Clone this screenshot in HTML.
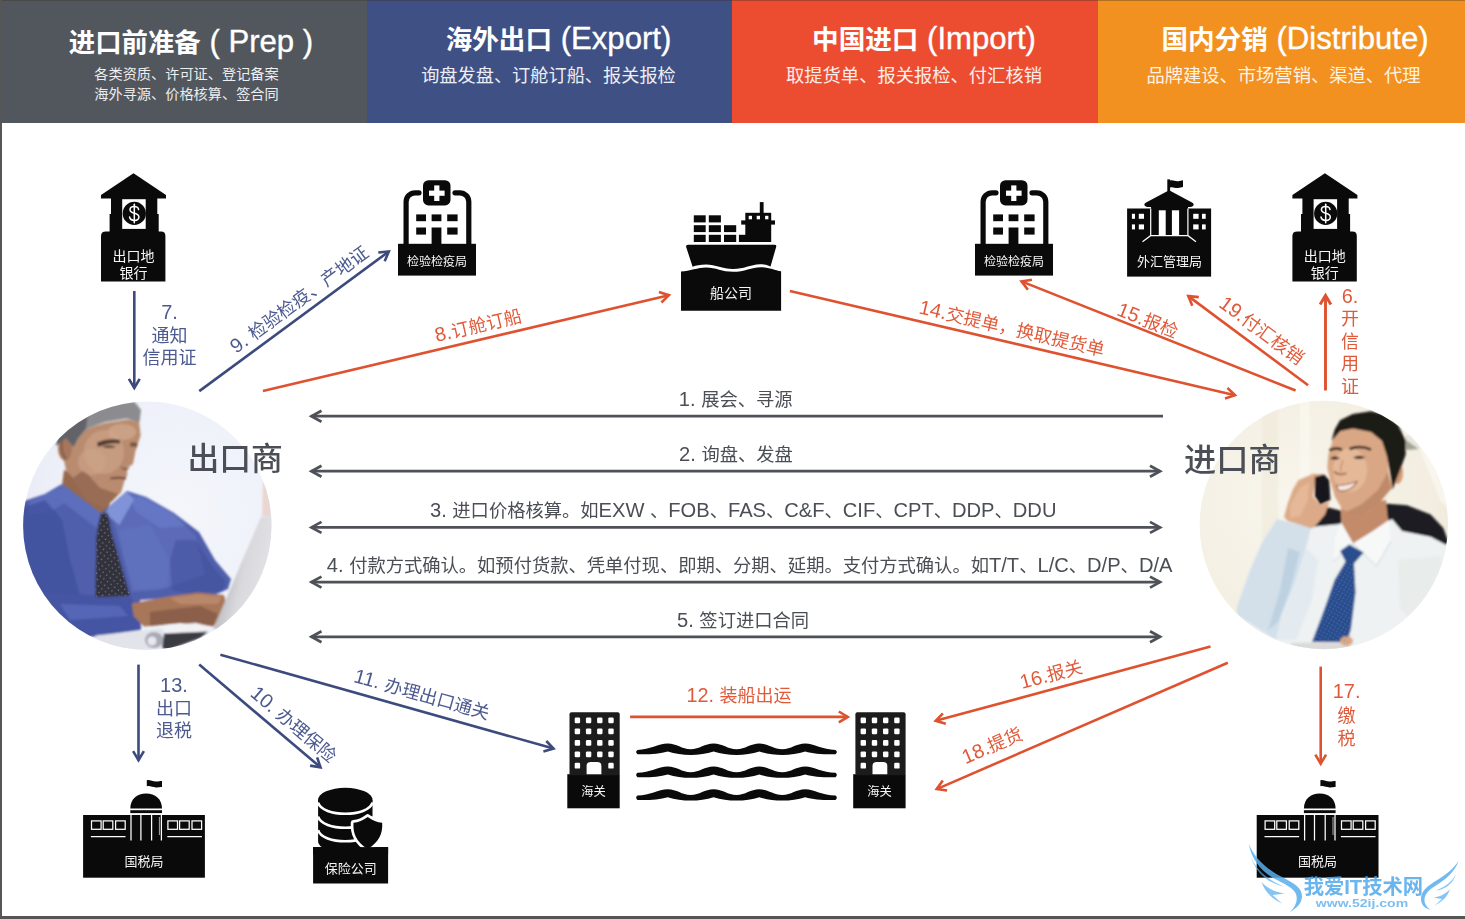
<!DOCTYPE html>
<html lang="zh-CN">
<head>
<meta charset="utf-8">
<title>进出口流程</title>
<style>
html,body{margin:0;padding:0;background:#fff}
#p{position:relative;width:1465px;height:919px;overflow:hidden;background:#fff;font-family:"Liberation Sans","Noto Sans CJK SC",sans-serif}
.t{position:absolute;white-space:nowrap;line-height:1;text-align:center}
.k{font-size:.963em}
.l{position:absolute;left:0;top:0}
.hd{position:absolute;top:0;height:123px}
</style>
</head>
<body>
<div id="p">
<div class="hd" style="left:0px;width:367px;background:#52565d"></div>
<div class="hd" style="left:367px;width:365px;background:#3f5084"></div>
<div class="hd" style="left:732px;width:366px;background:#ec4d31"></div>
<div class="hd" style="left:1098px;width:367px;background:#f29120"></div>
<div class="t" style="left:191px;top:41.7px;font-size:26.4px;color:#fff;font-weight:700;transform:translate(-50%,-50%);">进口前准备<span style="font-size:1.18em;font-weight:400;-webkit-text-stroke:0.35px #fff;"> ( Prep )</span></div>
<div class="t" style="left:186.5px;top:74.4px;font-size:14.2px;color:#eceef0;transform:translate(-50%,-50%);">各类资质、许可证、登记备案</div>
<div class="t" style="left:186.5px;top:93.9px;font-size:14.2px;color:#eceef0;transform:translate(-50%,-50%);">海外寻源、价格核算、签合同</div>
<div class="t" style="left:558.5px;top:39.2px;font-size:26.6px;color:#fff;font-weight:700;transform:translate(-50%,-50%);">海外出口<span style="font-size:1.17em;font-weight:400;-webkit-text-stroke:0.35px #fff;"> (Export)</span></div>
<div class="t" style="left:548.5px;top:76.3px;font-size:18.2px;color:#eceef4;transform:translate(-50%,-50%);">询盘发盘、订舱订船、报关报检</div>
<div class="t" style="left:924px;top:39.2px;font-size:26.6px;color:#fff;font-weight:700;transform:translate(-50%,-50%);">中国进口<span style="font-size:1.17em;font-weight:400;-webkit-text-stroke:0.35px #fff;"> (Import)</span></div>
<div class="t" style="left:914px;top:75.8px;font-size:18.3px;color:#fdeeea;transform:translate(-50%,-50%);">取提货单、报关报检、付汇核销</div>
<div class="t" style="left:1295px;top:39.2px;font-size:26.6px;color:#fff;font-weight:700;transform:translate(-50%,-50%);">国内分销<span style="font-size:1.17em;font-weight:400;-webkit-text-stroke:0.35px #fff;"> (Distribute)</span></div>
<div class="t" style="left:1283.5px;top:75.8px;font-size:18.3px;color:#fef3e4;transform:translate(-50%,-50%);">品牌建设、市场营销、渠道、代理</div>
<div style="position:absolute;left:0;top:0;width:1465px;height:1px;background:rgba(60,50,40,.35)"></div>
<div style="position:absolute;left:0;top:0;width:2px;height:919px;background:#565656"></div>
<div style="position:absolute;left:0;top:916px;width:1465px;height:3px;background:#555"></div>
<svg class="l" width="1465" height="919" viewBox="0 0 1465 919">
<defs><clipPath id="cL"><circle cx="147.3" cy="525.7" r="124.2"/></clipPath><clipPath id="cR"><circle cx="1323.8" cy="525" r="124.2"/></clipPath><clipPath id="tieL"><path d="M101,513 L108,513.5 L111.5,533 L130,596 L95.4,597 L96.3,538 L98.5,524 Z"/></clipPath><clipPath id="tieR"><path d="M1345.6,563 L1354,563.6 L1355.5,592.4 L1351,628.5 L1347.4,642 L1312,642 L1323.9,610.4 L1334.7,579.7 Z"/></clipPath><filter id="b1" x="-5%" y="-5%" width="110%" height="110%"><feGaussianBlur stdDeviation="0.9"/></filter><radialGradient id="bgL" cx="0.62" cy="0.45" r="0.75"><stop offset="0" stop-color="#f4f6fb"/><stop offset="0.6" stop-color="#eef1f9"/><stop offset="1" stop-color="#e6e9f4"/></radialGradient><radialGradient id="bgR" cx="0.35" cy="0.4" r="0.8"><stop offset="0" stop-color="#f8f5ec"/><stop offset="0.7" stop-color="#f3eee1"/><stop offset="1" stop-color="#ece5d4"/></radialGradient><linearGradient id="lap" x1="0" y1="0" x2="1" y2="0.45"><stop offset="0.35" stop-color="#bfbfc4"/><stop offset="0.55" stop-color="#d9d9dd"/><stop offset="1" stop-color="#e8e8ea"/></linearGradient><pattern id="dotL" width="4.6" height="4.6" patternUnits="userSpaceOnUse" patternTransform="rotate(38)"><circle cx="1.2" cy="1.2" r="0.65" fill="#8d888c"/></pattern><pattern id="dotR" width="3.6" height="3.6" patternUnits="userSpaceOnUse" patternTransform="rotate(30)"><circle cx="1" cy="1" r="0.6" fill="#5f86c4"/></pattern></defs>
<g clip-path="url(#cL)"><rect x="20" y="398" width="256" height="256" fill="url(#bgL)"/><g filter="url(#b1)"><path d="M263,482 L270,480 L272,517 L262,517 Z" fill="#ead6d2" /><path d="M64,470 L112,488 L109,512 L100,520 L60,500 Z" fill="#96694f" /><path d="M73,444 L79,436 L88,428 L105,423 L127,419.5 L139,421 L140.7,435.5 L137.1,446 L135.4,451.5 L133,464 L126.5,468.3 L127.4,474.5 L124.7,480 L121.2,492.3 L112.3,501.2 L104,507 L88,500 L73,478 L66,470 L62,452 Z" fill="#b98c70" /><ellipse cx="104" cy="452" rx="20" ry="22" fill="#c99f84" opacity=".8"/><ellipse cx="122" cy="432" rx="14" ry="8" fill="#cfa68c" opacity=".8"/><path d="M73,478 L88,500 L104,507 L112,501 L118,494 L100,488 L84,470 Z" fill="#8e624b" opacity=".75"/><ellipse cx="65" cy="448" rx="7" ry="12.5" fill="#a6775c"/><path d="M97,442.5 Q108,437.5 120,440 L120,443.5 Q109,442 98,447 Z" fill="#3e2a22" opacity=".85"/><path d="M102,446.5 Q109,444.5 116,446.8 Q109,449.5 102,446.5 Z" fill="#2e201b" opacity=".8"/><path d="M130,443 Q134,441.5 137.5,443.5 L137,447.5 Q133,446 130.5,447 Z" fill="#5a3c30" opacity=".7"/><path d="M120,466 Q125,469.5 130,467 L127,470.5 Q123,471 120,466 Z" fill="#7a4f3e" opacity=".8"/><ellipse cx="92" cy="462" rx="14" ry="13" fill="#d0a58a" opacity=".55"/><path d="M62,440 Q60,452 66,459" stroke="#7d5642" stroke-width="2.2" fill="none" opacity=".8"/><path d="M96,408 Q118,401 138,404 L139,412 Q118,408 100,416 Z" fill="#b9b9bd" opacity=".75"/><path d="M110.5,478.5 Q118,477 126,478.5" stroke="#6e4336" stroke-width="2.2" fill="none"/><path d="M56,446 L58,436 L63,428 L73,421 L94.5,410 L119,403 L134,401.5 L141,410 L139.5,422 L126.5,418.5 L105.2,422 L88,428 L79,438 L73.5,447 L66,438 Z" fill="#8b8b90" /><path d="M56,446 L58,436 L63,428 L73,421 L88,413 L86,428 L78,438 L73.5,447 L66,438 Z" fill="#57575d" opacity=".8"/></g><g filter="url(#b1)"><path d="M15,505 L27,500 L45,494 L61,484.5 L100,514 L127,491 L146,497 L174,513 L199,532 L215,560 L231,579 L228,589 L212,596 L170,598 L140,600 L141,630 L98,636 L60,640 L15,640 Z" fill="#4f5eab" /><path d="M110,510 L140,497 L176,516 L196,536 L205,575 L160,590 L132,592 L120,545 Z" fill="#5d6dba" opacity=".85"/><path d="M30,501 L46,494.5 L62,486 L70,500 L50,512 L28,514 Z" fill="#6273c2" opacity=".7"/><path d="M128,493 L146,498 L172,513 L186,526 L160,528 L136,512 Z" fill="#6a7bc9" opacity=".7"/><path d="M118,530 L150,524 L170,560 L168,588 L134,590 L124,560 Z" fill="#6373c0" opacity=".55"/><path d="M15,510 L45,500 L62,520 L70,560 L80,596 L40,600 L15,560 Z" fill="#3f4e9a" opacity=".7"/><path d="M176,540 L196,540 L212,566 L226,582 L222,592 L190,594 L172,590 L170,560 Z" fill="#3f4d98" opacity=".5"/><path d="M40,592 L132,598 L141,628 L98,636 L55,640 L30,620 Z" fill="#4555a3" /><path d="M60,604 L120,606 L128,616 L70,620 Z" fill="#5b6dbd" opacity=".7"/><path d="M62.6,484 L101.6,513.6 L96.3,528 L60,500 Z" fill="#5c6ebc" /><path d="M108.7,506.5 L126.5,491.5 L134,499.4 L119.4,525 L105.2,513.6 Z" fill="#8093d8" /><path d="M101,513 L108,513.5 L111.5,533 L130,596 L95.4,597 L96.3,538 L98.5,524 Z" fill="#33323d" /><path d="M131.8,603.4 L171,596 L197.5,592.5 L224,595 L226,603.4 L219,619.4 L213.4,626.5 L180,623 L144,626.5 L133.6,616 Z" fill="#a87659" /><path d="M150,612 L200,606 L218,614 L213,626 L180,623 L150,626 Z" fill="#7f5641" opacity=".7"/><path d="M170,598 L200,594 L222,597 L218,604 L180,604 Z" fill="#bd8c6f" opacity=".8"/><path d="M165,625.5 L196,623 L212,627 L208,632 L166,633 Z" fill="#f2f2f5" /><path d="M96,635.4 L162,628.4 L165,636 L162,647.5 L142,650 L110,652 L90,645 Z" fill="#e3e3ea" /><ellipse cx="154" cy="640" rx="9" ry="8" fill="#a9a9b6"/><ellipse cx="152" cy="641" rx="4.5" ry="4.5" fill="#e8e8ee"/><path d="M164,633.4 L208,631.6 L200,638 L168,650 L162,648 Z" fill="#3b3b42" /><path d="M260.9,517 L280,515 L280,640 L213.4,628.5 Z" fill="url(#lap)" /></g><rect x="94" y="512" width="38" height="86" fill="url(#dotL)" clip-path="url(#tieL)"/></g>
<g clip-path="url(#cR)"><rect x="1196" y="398" width="256" height="256" fill="url(#bgR)"/><g filter="url(#b1)"><rect x="1262" y="400" width="16" height="140" fill="#efe9d9" opacity=".6"/><rect x="1300" y="400" width="10" height="80" fill="#fbf8f0" opacity=".7"/><path d="M1405,436 L1414,433 L1421,440 L1420,449 L1406,450 Z" fill="#a2a496" /><path d="M1398,396 L1460,396 L1460,520 L1440,500 L1420,450 L1406,440 Z" fill="#faf8f1" opacity=".8"/><path d="M1307,531 L1316.6,514.4 L1327.5,507.2 L1341,510.8 L1342,527 L1309,529 Z" fill="#1d1d20" /><path d="M1384,503.5 L1407,505.3 L1430.6,514.4 L1443.3,528 L1449,543.5 L1443.3,546 L1430.6,537 L1401.6,531.5 L1388,520 Z" fill="#1d1d20" /><path d="M1277,519 L1310,527 L1340,524 L1353,543 L1373,530 L1392,519 L1402,531 L1431,537 L1452,548 L1455,660 L1273,660 L1237,615 L1237,606.8 L1249.7,570.7 L1262.4,541.7 Z" fill="#eef2f2" /><path d="M1277,519 L1311,527.5 L1306,548 L1296,580 L1282,614 L1276,640 L1237,615 L1237,606.8 L1249.7,570.7 L1262.4,541.7 Z" fill="#d3e0ea" /><path d="M1288,548 L1300,552 L1290,590 L1278,622 L1268,630 L1280,590 Z" fill="#b9cddf" opacity=".8"/><path d="M1306,548 L1318,560 L1312,600 L1296,640 L1276,640 L1282,614 L1296,580 Z" fill="#e3ebf0" /><path d="M1398,560 L1440,556 L1452,600 L1420,625 L1400,610 Z" fill="#e6ebe9" opacity=".8"/><path d="M1341,508 L1386,500 L1388,522 L1373,531.5 L1353,543.5 L1341.5,524 Z" fill="#c38b6a" /><path d="M1341,522 L1353,543.5 L1333,562 L1335,538 Z" fill="#f6f8f7" /><path d="M1373,531 L1353,543.5 L1376.5,566 L1391,541 L1389,520 Z" fill="#f7f9f8" /><path d="M1353,543.5 L1333,562 M1353,543.5 L1376.5,566 L1391,541" stroke="#cdd5d8" stroke-width="1" fill="none"/><path d="M1340.1,551 L1349.2,544.4 L1363.7,552.6 L1354,563.6 L1355.5,592.4 L1351,628.5 L1347.4,642 L1312,642 L1323.9,610.4 L1334.7,579.7 L1345.6,561.6 Z" fill="#2a4e8d" /><path d="M1333,439 L1339.5,429.5 L1353,427 L1371.5,430.5 L1383.5,440 L1387.5,456 L1389,475 L1393,488 L1389,491 L1380,502 L1367.3,512.6 L1352.8,515.6 L1342,509 L1334.7,496.3 L1330.2,480 L1327.3,467.4 L1328.4,454.7 Z" fill="#d9a785" /><ellipse cx="1350" cy="470" rx="17" ry="22" fill="#e8bf9f" opacity=".75"/><path d="M1366,513 L1380,502 L1391,489 L1388,472 L1378,490 L1362,504 L1346,512 L1352.8,515.6 Z" fill="#b47d5c" opacity=".7"/><ellipse cx="1397.5" cy="473" rx="5.5" ry="11" fill="#d19a78"/><path d="M1329.5,450.5 Q1335,446.8 1342,449.8 M1349.5,449 Q1360,444.8 1371,449.6" stroke="#241812" stroke-width="2.6" fill="none"/><path d="M1330,458.5 Q1334.5,454.8 1340,458.2 Q1335,460.5 1330,458.5 Z M1353,457.8 Q1359,453.6 1365.5,457.6 Q1359,460.2 1353,457.8 Z" fill="#1f1511"/><path d="M1336.5,485.5 Q1346,485.5 1357,481.5 Q1351,492.5 1338.5,490.5 Z" fill="#f6ece6" stroke="#9c5b4a" stroke-width="1.2"/><path d="M1334,471.5 Q1339,476.5 1346.5,473" stroke="#9d6a52" stroke-width="1.8" fill="none"/><path d="M1343,460 Q1340,468 1341,472" stroke="#c08f70" stroke-width="1.6" fill="none" opacity=".8"/><path d="M1331.5,441 L1334.7,429.4 L1340.1,420.3 L1352.8,414 L1370.9,411.2 L1385.4,414.5 L1398,424.8 L1405.6,440.2 L1405.6,454.7 L1401,467.4 L1396.2,480 L1392.6,489.5 L1390,472 L1386.6,455 L1382,441 L1371,432 L1353,428.5 L1340.5,431 L1335.5,436.5 Z" fill="#1f1a17" /><path d="M1298.5,480 L1313,473.7 L1323.9,474.6 L1315.5,481 L1313,496.3 L1320.2,505.3 L1329.3,501.7 L1325,514.4 L1316,525.2 L1312,528.5 L1287.7,521 L1284.1,517 L1287.7,503.5 L1293.1,489.1 Z" fill="#dcaa88" /><path d="M1290,505 L1300,488 L1309,482 L1308,500 L1300,516 L1290,518 Z" fill="#e8bea0" opacity=".7"/><path d="M1314.8,477 L1323.9,474.6 L1329.3,480 L1330.4,499.9 L1320.2,504.8 L1314.8,496.3 Z" fill="#17141a" /><path d="M1291,643 L1348,642 L1352,650 L1290,650 Z" fill="#dadada" /><ellipse cx="1346.5" cy="641" rx="6.5" ry="4.8" fill="#d9a785"/></g><rect x="1310" y="542" width="56" height="102" fill="url(#dotR)" clip-path="url(#tieR)"/></g>
</svg>
<svg class="l" width="1465" height="919" viewBox="0 0 1465 919">
<g stroke="#4e5158" stroke-width="2.7" fill="none" stroke-linecap="butt" stroke-linejoin="miter"><line x1="1163.0" y1="416.2" x2="311.4" y2="416.2"/><polyline points="321.5,410.7 311.4,416.2 321.5,421.7"/></g>
<g stroke="#4e5158" stroke-width="2.7" fill="none" stroke-linecap="butt" stroke-linejoin="miter"><line x1="311.4" y1="471.2" x2="1160.1" y2="471.2"/><polyline points="1150.0,476.7 1160.1,471.2 1150.0,465.7"/><polyline points="321.5,465.7 311.4,471.2 321.5,476.7"/></g>
<g stroke="#4e5158" stroke-width="2.7" fill="none" stroke-linecap="butt" stroke-linejoin="miter"><line x1="311.4" y1="527.4" x2="1160.1" y2="527.4"/><polyline points="1150.0,532.9 1160.1,527.4 1150.0,521.9"/><polyline points="321.5,521.9 311.4,527.4 321.5,532.9"/></g>
<g stroke="#4e5158" stroke-width="2.7" fill="none" stroke-linecap="butt" stroke-linejoin="miter"><line x1="311.4" y1="582.1" x2="1160.1" y2="582.1"/><polyline points="1150.0,587.6 1160.1,582.1 1150.0,576.6"/><polyline points="321.5,576.6 311.4,582.1 321.5,587.6"/></g>
<g stroke="#4e5158" stroke-width="2.7" fill="none" stroke-linecap="butt" stroke-linejoin="miter"><line x1="311.4" y1="636.8" x2="1160.1" y2="636.8"/><polyline points="1150.0,642.3 1160.1,636.8 1150.0,631.3"/><polyline points="321.5,631.3 311.4,636.8 321.5,642.3"/></g>
<g stroke="#3c4a7d" stroke-width="2.6" fill="none" stroke-linecap="butt" stroke-linejoin="miter"><line x1="134.3" y1="291.0" x2="134.3" y2="387.9"/><polyline points="128.9,378.9 134.3,387.9 139.7,378.9"/></g>
<g stroke="#3c4a7d" stroke-width="2.6" fill="none" stroke-linecap="butt" stroke-linejoin="miter"><line x1="199.3" y1="391.1" x2="388.8" y2="251.5"/><polyline points="384.7,261.2 388.8,251.5 378.3,252.5"/></g>
<g stroke="#3c4a7d" stroke-width="2.6" fill="none" stroke-linecap="butt" stroke-linejoin="miter"><line x1="138.5" y1="664.6" x2="138.5" y2="760.1"/><polyline points="133.1,751.1 138.5,760.1 143.9,751.1"/></g>
<g stroke="#3c4a7d" stroke-width="2.6" fill="none" stroke-linecap="butt" stroke-linejoin="miter"><line x1="199.2" y1="664.6" x2="320.5" y2="767.3"/><polyline points="310.1,765.6 320.5,767.3 317.1,757.4"/></g>
<g stroke="#3c4a7d" stroke-width="2.6" fill="none" stroke-linecap="butt" stroke-linejoin="miter"><line x1="220.4" y1="654.7" x2="553.5" y2="748.6"/><polyline points="543.4,751.4 553.5,748.6 546.3,741.0"/></g>
<g stroke="#df5230" stroke-width="2.6" fill="none" stroke-linecap="butt" stroke-linejoin="miter"><line x1="262.9" y1="390.9" x2="668.9" y2="295.2"/><polyline points="661.4,302.5 668.9,295.2 658.9,292.0"/></g>
<g stroke="#df5230" stroke-width="2.6" fill="none" stroke-linecap="butt" stroke-linejoin="miter"><line x1="789.9" y1="290.9" x2="1235.0" y2="395.2"/><polyline points="1225.0,398.4 1235.0,395.2 1227.5,387.9"/></g>
<g stroke="#df5230" stroke-width="2.6" fill="none" stroke-linecap="butt" stroke-linejoin="miter"><line x1="1295.6" y1="390.5" x2="1021.5" y2="281.4"/><polyline points="1031.9,279.7 1021.5,281.4 1027.9,289.7"/></g>
<g stroke="#df5230" stroke-width="2.6" fill="none" stroke-linecap="butt" stroke-linejoin="miter"><line x1="1308.1" y1="385.3" x2="1188.3" y2="296.1"/><polyline points="1198.8,297.1 1188.3,296.1 1192.3,305.8"/></g>
<g stroke="#df5230" stroke-width="2.9" fill="none" stroke-linecap="butt" stroke-linejoin="miter"><line x1="1325.5" y1="390.5" x2="1325.5" y2="295.4"/><polyline points="1330.9,304.4 1325.5,295.4 1320.1,304.4"/></g>
<g stroke="#df5230" stroke-width="2.6" fill="none" stroke-linecap="butt" stroke-linejoin="miter"><line x1="630.1" y1="716.9" x2="847.8" y2="716.9"/><polyline points="838.8,722.3 847.8,716.9 838.8,711.5"/></g>
<g stroke="#df5230" stroke-width="2.6" fill="none" stroke-linecap="butt" stroke-linejoin="miter"><line x1="1210.5" y1="646.6" x2="935.7" y2="720.8"/><polyline points="942.9,713.3 935.7,720.8 945.8,723.7"/></g>
<g stroke="#df5230" stroke-width="2.6" fill="none" stroke-linecap="butt" stroke-linejoin="miter"><line x1="1227.8" y1="662.8" x2="936.7" y2="789.1"/><polyline points="942.8,780.6 936.7,789.1 947.1,790.5"/></g>
<g stroke="#df5230" stroke-width="2.6" fill="none" stroke-linecap="butt" stroke-linejoin="miter"><line x1="1320.7" y1="666.6" x2="1320.7" y2="763.6"/><polyline points="1315.3,754.6 1320.7,763.6 1326.1,754.6"/></g>
</svg>
<svg class="l" width="1465" height="919" viewBox="0 0 1465 919">
<g transform="translate(0,0)" fill="#0a0a0a"><path d="M133.5,173.3 L166,195 V198.6 H101 V195 Z"/><rect x="111" y="197" width="46.3" height="36"/><rect x="109.6" y="214" width="49.1" height="19"/><rect x="122.2" y="199.2" width="23.5" height="29.7" fill="#fff"/><circle cx="134.3" cy="213.4" r="11.6"/><path d="M106,231.6 H161 Q165.4,231.6 165.4,236 V281.6 H101 V236 Q101,231.6 106,231.6 Z"/><g fill="none" stroke="#fff" stroke-width="1.5" stroke-linecap="round"><path d="M138.6,209.6 C138.2,207.4 136.4,206.6 134.3,206.6 C131.6,206.6 130,207.9 130,209.8 C130,214.6 138.9,212 138.9,217 C138.9,219.2 137,220.4 134.4,220.4 C131.8,220.4 130,219.3 129.6,217"/><path d="M134.3,204.2 V222.8"/></g></g>
<g transform="translate(1191.4,0)" fill="#0a0a0a"><path d="M133.5,173.3 L166,195 V198.6 H101 V195 Z"/><rect x="111" y="197" width="46.3" height="36"/><rect x="109.6" y="214" width="49.1" height="19"/><rect x="122.2" y="199.2" width="23.5" height="29.7" fill="#fff"/><circle cx="134.3" cy="213.4" r="11.6"/><path d="M106,231.6 H161 Q165.4,231.6 165.4,236 V281.6 H101 V236 Q101,231.6 106,231.6 Z"/><g fill="none" stroke="#fff" stroke-width="1.5" stroke-linecap="round"><path d="M138.6,209.6 C138.2,207.4 136.4,206.6 134.3,206.6 C131.6,206.6 130,207.9 130,209.8 C130,214.6 138.9,212 138.9,217 C138.9,219.2 137,220.4 134.4,220.4 C131.8,220.4 130,219.3 129.6,217"/><path d="M134.3,204.2 V222.8"/></g></g>
<g transform="translate(0,0)" fill="#0a0a0a"><rect x="398" y="243.8" width="78" height="31.8"/><g fill="none" stroke="#0a0a0a" stroke-width="5.2" stroke-linecap="round"><path d="M406.1,245 V201.8 A9,9 0 0 1 415.1,192.8 H419"/><path d="M468.8,245 V201.8 A9,9 0 0 0 459.8,192.8 H455"/></g><rect x="423" y="180.2" width="27.5" height="25.2" rx="5.5"/><rect x="429" y="190.6" width="15.6" height="5.2" fill="#fff"/><rect x="434.2" y="185.4" width="5.2" height="15.6" fill="#fff"/><rect x="416.2" y="214.4" width="9.8" height="6.8"/><rect x="431.6" y="214.4" width="9.8" height="6.8"/><rect x="447.2" y="214.4" width="10.4" height="6.8"/><rect x="416.2" y="227.5" width="9.8" height="7.1"/><rect x="447.2" y="227.5" width="10.4" height="7.1"/><rect x="431.6" y="227.5" width="9.8" height="17"/></g>
<g transform="translate(577,0)" fill="#0a0a0a"><rect x="398" y="243.8" width="78" height="31.8"/><g fill="none" stroke="#0a0a0a" stroke-width="5.2" stroke-linecap="round"><path d="M406.1,245 V201.8 A9,9 0 0 1 415.1,192.8 H419"/><path d="M468.8,245 V201.8 A9,9 0 0 0 459.8,192.8 H455"/></g><rect x="423" y="180.2" width="27.5" height="25.2" rx="5.5"/><rect x="429" y="190.6" width="15.6" height="5.2" fill="#fff"/><rect x="434.2" y="185.4" width="5.2" height="15.6" fill="#fff"/><rect x="416.2" y="214.4" width="9.8" height="6.8"/><rect x="431.6" y="214.4" width="9.8" height="6.8"/><rect x="447.2" y="214.4" width="10.4" height="6.8"/><rect x="416.2" y="227.5" width="9.8" height="7.1"/><rect x="447.2" y="227.5" width="10.4" height="7.1"/><rect x="431.6" y="227.5" width="9.8" height="17"/></g>
<g fill="#0a0a0a"><path d="M681,310.7 V271.5 C690,271 698,267.5 706,267.5 C716,267.5 722,271.8 733,271.8 C745,271.8 752,266.8 762,267.2 C770,267.5 775,270.5 781.1,271.2 V310.7 Z"/><path d="M686,246.5 Q686,244.7 688,244.7 H774.5 Q776.5,244.7 776.3,246.5 L770.5,266.5 C766,264.5 763,264 760,264.2 C750,264.6 744,269 733,269 C722,269 716,264.6 706,264.6 C700,264.6 696,265.6 692.6,266.8 Z"/><rect x="693.8" y="215.3" width="11.9" height="7.1"/><rect x="708.8" y="215.3" width="12.1" height="7.1"/><rect x="693.8" y="225.2" width="11.9" height="6.9"/><rect x="708.8" y="225.2" width="12.1" height="6.9"/><rect x="724" y="225.2" width="12.2" height="6.9"/><rect x="693.8" y="234.8" width="11.9" height="7.2"/><rect x="708.8" y="234.8" width="12.1" height="7.2"/><rect x="724" y="234.8" width="12.2" height="7.2"/><rect x="738.9" y="234.8" width="12.2" height="7.2"/><rect x="745.3" y="212.8" width="25.9" height="29.2"/><rect x="741.2" y="220.4" width="33.8" height="4.2"/><rect x="759.8" y="202.1" width="3.8" height="11"/><rect x="748.7" y="215.8" width="3.3" height="3.5" fill="#fff"/><rect x="756.7" y="215.8" width="3.3" height="3.5" fill="#fff"/><rect x="765.1" y="215.8" width="3.3" height="3.5" fill="#fff"/></g>
<g fill="#0a0a0a"><rect x="1127.1" y="208.5" width="84" height="68.1"/><path d="M1169.1,190.2 L1192.5,202.8 Q1194.5,204 1193.4,205.6 Q1192.6,206.9 1190.5,206.9 H1147.5 Q1145.4,206.9 1144.6,205.6 Q1143.6,204 1145.6,202.8 Z"/><rect x="1151" y="205" width="37" height="30"/><rect x="1167.3" y="179.4" width="2.8" height="12"/><path d="M1170,180.6 C1173,179.6 1175,181.6 1178,181.2 C1180,181 1181.5,180.2 1183,180.2 V187 C1181.5,187 1180,187.8 1178,188 C1175,188.3 1173,186.6 1170,187.4 Z"/><path d="M1150.7,208.5 V235.6 L1142.5,241.8 M1187.9,208.5 V235.6 L1196,241.8 M1150.7,235.6 H1187.9" fill="none" stroke="#fff" stroke-width="1.2"/><rect x="1158.8" y="210.3" width="6.9" height="24.7" fill="#fff"/><rect x="1171.9" y="210.3" width="7.2" height="24.7" fill="#fff"/><rect x="1131.9" y="213.8" width="3.1" height="5" fill="#fff"/><rect x="1131.9" y="224.4" width="3.1" height="5" fill="#fff"/><rect x="1138.8" y="213.8" width="5.2" height="5" fill="#fff"/><rect x="1138.8" y="224.4" width="5.2" height="5" fill="#fff"/><rect x="1193.2" y="213.8" width="5.4" height="5" fill="#fff"/><rect x="1193.2" y="224.4" width="5.4" height="5" fill="#fff"/><rect x="1202" y="213.8" width="3.7" height="5" fill="#fff"/><rect x="1202" y="224.4" width="3.7" height="5" fill="#fff"/></g>
<g transform="translate(0,0)" fill="#0a0a0a"><rect x="83.1" y="815" width="121.8" height="62.7"/><path d="M130.3,808.5 C130.3,799 137,793.5 146.1,793.5 C155.2,793.5 162,799 162,808.5 Z"/><rect x="130.3" y="810.2" width="31.7" height="2.9"/><path d="M146.8,780.2 C150,779.6 152.5,781.6 156,781.6 C158.5,781.6 160,781 162,781 V787 C160,787 158.5,787.6 156,787.4 C152.5,787.2 150,785.4 146.8,786.2 Z"/><path d="M131,815 V840.5 M140.9,815 V840.5 M151.6,815 V840.5 M161.4,815 V840.5 M90.9,836.6 H125.5 M167.3,836.6 H201.9" fill="none" stroke="#fff" stroke-width="1.25"/><path d="M159.4,817 V835" fill="none" stroke="#aaa" stroke-width="1"/><rect x="91.5" y="820.9" width="9.6" height="8.4" fill="none" stroke="#fff" stroke-width="1.25"/><rect x="103.2" y="820.9" width="9.6" height="8.4" fill="none" stroke="#fff" stroke-width="1.25"/><rect x="115.6" y="820.9" width="9.6" height="8.4" fill="none" stroke="#fff" stroke-width="1.25"/><rect x="167.9" y="820.9" width="9.6" height="8.4" fill="none" stroke="#fff" stroke-width="1.25"/><rect x="179.6" y="820.9" width="9.6" height="8.4" fill="none" stroke="#fff" stroke-width="1.25"/><rect x="192" y="820.9" width="9.6" height="8.4" fill="none" stroke="#fff" stroke-width="1.25"/></g>
<g transform="translate(1173.6,0)" fill="#0a0a0a"><rect x="83.1" y="815" width="121.8" height="62.7"/><path d="M130.3,808.5 C130.3,799 137,793.5 146.1,793.5 C155.2,793.5 162,799 162,808.5 Z"/><rect x="130.3" y="810.2" width="31.7" height="2.9"/><path d="M146.8,780.2 C150,779.6 152.5,781.6 156,781.6 C158.5,781.6 160,781 162,781 V787 C160,787 158.5,787.6 156,787.4 C152.5,787.2 150,785.4 146.8,786.2 Z"/><path d="M131,815 V840.5 M140.9,815 V840.5 M151.6,815 V840.5 M161.4,815 V840.5 M90.9,836.6 H125.5 M167.3,836.6 H201.9" fill="none" stroke="#fff" stroke-width="1.25"/><path d="M159.4,817 V835" fill="none" stroke="#aaa" stroke-width="1"/><rect x="91.5" y="820.9" width="9.6" height="8.4" fill="none" stroke="#fff" stroke-width="1.25"/><rect x="103.2" y="820.9" width="9.6" height="8.4" fill="none" stroke="#fff" stroke-width="1.25"/><rect x="115.6" y="820.9" width="9.6" height="8.4" fill="none" stroke="#fff" stroke-width="1.25"/><rect x="167.9" y="820.9" width="9.6" height="8.4" fill="none" stroke="#fff" stroke-width="1.25"/><rect x="179.6" y="820.9" width="9.6" height="8.4" fill="none" stroke="#fff" stroke-width="1.25"/><rect x="192" y="820.9" width="9.6" height="8.4" fill="none" stroke="#fff" stroke-width="1.25"/></g>
<g fill="#0a0a0a"><rect x="313.1" y="847.1" width="75" height="36.4"/><path d="M318.1,800 V841 C318.1,845 322,848 326,849 H366 C369,848 372.5,845 372.5,841 V800 Z"/><ellipse cx="345.3" cy="799.9" rx="27.2" ry="12.2"/><path d="M318.1,802.5 C322,817.5 368.6,817.5 372.5,802.5 M318.1,816.5 C322,831.5 368.6,831.5 372.5,816.5 M318.1,830 C322,845 368.6,845 372.5,830" fill="none" stroke="#fff" stroke-width="2.6"/><path d="M367.7,816.9 C363,820.5 358.5,822.3 353.5,822.8 C352.8,833 356,842 367.7,849 C379.5,842 382.8,833 382.2,822.8 C377,822.3 372.5,820.5 367.7,816.9 Z" fill="#0a0a0a" stroke="#fff" stroke-width="5.5" stroke-linejoin="round"/><path d="M367.7,816.9 C363,820.5 358.5,822.3 353.5,822.8 C352.8,833 356,842 367.7,849 C379.5,842 382.8,833 382.2,822.8 C377,822.3 372.5,820.5 367.7,816.9 Z"/><rect x="313.1" y="847.1" width="75" height="7"/></g>
<g transform="translate(0,0)" fill="#0a0a0a"><rect x="567.3" y="774.2" width="52.4" height="34.1"/><rect x="569.5" y="712.2" width="50.2" height="63" rx="2" fill="#1c1c1c"/><rect x="574.6999999999999" y="717.5" width="5.4" height="5.8" rx="1.2" fill="#fff"/><rect x="585.9" y="717.5" width="5.4" height="5.8" rx="1.2" fill="#fff"/><rect x="597.0999999999999" y="717.5" width="5.4" height="5.8" rx="1.2" fill="#fff"/><rect x="608.3" y="717.5" width="5.4" height="5.8" rx="1.2" fill="#fff"/><rect x="574.6999999999999" y="728.4" width="5.4" height="5.8" rx="1.2" fill="#fff"/><rect x="585.9" y="728.4" width="5.4" height="5.8" rx="1.2" fill="#fff"/><rect x="597.0999999999999" y="728.4" width="5.4" height="5.8" rx="1.2" fill="#fff"/><rect x="608.3" y="728.4" width="5.4" height="5.8" rx="1.2" fill="#fff"/><rect x="574.6999999999999" y="739.9" width="5.4" height="5.8" rx="1.2" fill="#fff"/><rect x="585.9" y="739.9" width="5.4" height="5.8" rx="1.2" fill="#fff"/><rect x="597.0999999999999" y="739.9" width="5.4" height="5.8" rx="1.2" fill="#fff"/><rect x="608.3" y="739.9" width="5.4" height="5.8" rx="1.2" fill="#fff"/><rect x="574.6999999999999" y="751.4" width="5.4" height="5.8" rx="1.2" fill="#fff"/><rect x="585.9" y="751.4" width="5.4" height="5.8" rx="1.2" fill="#fff"/><rect x="597.0999999999999" y="751.4" width="5.4" height="5.8" rx="1.2" fill="#fff"/><rect x="608.3" y="751.4" width="5.4" height="5.8" rx="1.2" fill="#fff"/><rect x="574.6999999999999" y="762.8000000000001" width="5.4" height="5.8" rx="1.2" fill="#fff"/><rect x="608.3" y="762.8000000000001" width="5.4" height="5.8" rx="1.2" fill="#fff"/><path d="M586.6,774.2 V766 Q586.6,761.9 590.6,761.9 H597.4 Q601.4,761.9 601.4,766 V774.2 Z" fill="#fff"/></g>
<g transform="translate(285.9,0)" fill="#0a0a0a"><rect x="567.3" y="774.2" width="52.4" height="34.1"/><rect x="569.5" y="712.2" width="50.2" height="63" rx="2" fill="#1c1c1c"/><rect x="574.6999999999999" y="717.5" width="5.4" height="5.8" rx="1.2" fill="#fff"/><rect x="585.9" y="717.5" width="5.4" height="5.8" rx="1.2" fill="#fff"/><rect x="597.0999999999999" y="717.5" width="5.4" height="5.8" rx="1.2" fill="#fff"/><rect x="608.3" y="717.5" width="5.4" height="5.8" rx="1.2" fill="#fff"/><rect x="574.6999999999999" y="728.4" width="5.4" height="5.8" rx="1.2" fill="#fff"/><rect x="585.9" y="728.4" width="5.4" height="5.8" rx="1.2" fill="#fff"/><rect x="597.0999999999999" y="728.4" width="5.4" height="5.8" rx="1.2" fill="#fff"/><rect x="608.3" y="728.4" width="5.4" height="5.8" rx="1.2" fill="#fff"/><rect x="574.6999999999999" y="739.9" width="5.4" height="5.8" rx="1.2" fill="#fff"/><rect x="585.9" y="739.9" width="5.4" height="5.8" rx="1.2" fill="#fff"/><rect x="597.0999999999999" y="739.9" width="5.4" height="5.8" rx="1.2" fill="#fff"/><rect x="608.3" y="739.9" width="5.4" height="5.8" rx="1.2" fill="#fff"/><rect x="574.6999999999999" y="751.4" width="5.4" height="5.8" rx="1.2" fill="#fff"/><rect x="585.9" y="751.4" width="5.4" height="5.8" rx="1.2" fill="#fff"/><rect x="597.0999999999999" y="751.4" width="5.4" height="5.8" rx="1.2" fill="#fff"/><rect x="608.3" y="751.4" width="5.4" height="5.8" rx="1.2" fill="#fff"/><rect x="574.6999999999999" y="762.8000000000001" width="5.4" height="5.8" rx="1.2" fill="#fff"/><rect x="608.3" y="762.8000000000001" width="5.4" height="5.8" rx="1.2" fill="#fff"/><path d="M586.6,774.2 V766 Q586.6,761.9 590.6,761.9 H597.4 Q601.4,761.9 601.4,766 V774.2 Z" fill="#fff"/></g>
<g fill="#0a0a0a"><path d="M637.5,749.9 C650,749.9 658,743.6 667.8,743.6 C676.8,743.6 681.8,749.3 690.7,749.3 C699.6,749.3 704.6,743.6 713.6,743.6 C722.6,743.6 727.6,749.3 736.5,749.3 C745.4,749.3 750.4,743.6 759.4,743.6 C768.4,743.6 773.4,749.3 782.3,749.3 C791.2,749.3 796.2,743.6 805.2,743.6 C814.2,743.6 822.2,749.9 835.5,749.9 Q838.2,752.1 835.5,754.3 C822.2,754.5 813.2,753.7 805.2,751.5 C798.2,753.8 790.2,754.9 782.3,754.9 C774.4,754.9 766.4,753.8 759.4,751.5 C752.4,753.8 744.4,754.9 736.5,754.9 C728.6,754.9 720.6,753.8 713.6,751.5 C706.6,753.8 698.6,754.9 690.7,754.9 C682.8,754.9 674.8,753.8 667.8,751.5 C659.8,753.7 649.8,754.6 637.5,754.3 Q634.8,752.1 637.5,749.9 Z"/><path d="M637.5,772.8 C650,772.8 658,766.5 667.8,766.5 C676.8,766.5 681.8,772.2 690.7,772.2 C699.6,772.2 704.6,766.5 713.6,766.5 C722.6,766.5 727.6,772.2 736.5,772.2 C745.4,772.2 750.4,766.5 759.4,766.5 C768.4,766.5 773.4,772.2 782.3,772.2 C791.2,772.2 796.2,766.5 805.2,766.5 C814.2,766.5 822.2,772.8 835.5,772.8 Q838.2,775.0 835.5,777.2 C822.2,777.4 813.2,776.6 805.2,774.4 C798.2,776.7 790.2,777.8 782.3,777.8 C774.4,777.8 766.4,776.7 759.4,774.4 C752.4,776.7 744.4,777.8 736.5,777.8 C728.6,777.8 720.6,776.7 713.6,774.4 C706.6,776.7 698.6,777.8 690.7,777.8 C682.8,777.8 674.8,776.7 667.8,774.4 C659.8,776.6 649.8,777.5 637.5,777.2 Q634.8,775.0 637.5,772.8 Z"/><path d="M637.5,795.6 C650,795.6 658,789.3 667.8,789.3 C676.8,789.3 681.8,795.0 690.7,795.0 C699.6,795.0 704.6,789.3 713.6,789.3 C722.6,789.3 727.6,795.0 736.5,795.0 C745.4,795.0 750.4,789.3 759.4,789.3 C768.4,789.3 773.4,795.0 782.3,795.0 C791.2,795.0 796.2,789.3 805.2,789.3 C814.2,789.3 822.2,795.6 835.5,795.6 Q838.2,797.8 835.5,800.0 C822.2,800.2 813.2,799.4 805.2,797.2 C798.2,799.5 790.2,800.6 782.3,800.6 C774.4,800.6 766.4,799.5 759.4,797.2 C752.4,799.5 744.4,800.6 736.5,800.6 C728.6,800.6 720.6,799.5 713.6,797.2 C706.6,799.5 698.6,800.6 690.7,800.6 C682.8,800.6 674.8,799.5 667.8,797.2 C659.8,799.4 649.8,800.3 637.5,800.0 Q634.8,797.8 637.5,795.6 Z"/></g>
</svg>
<div class="t" style="left:235.1px;top:459.7px;font-size:31.8px;color:#4b4e56;font-weight:500;transform:translate(-50%,-50%);">出口商</div>
<div class="t" style="left:1232.3px;top:459.7px;font-size:32.2px;color:#4b4e56;font-weight:500;transform:translate(-50%,-50%);">进口商</div>
<div class="t" style="left:735.7px;top:398.6px;font-size:19px;color:#4b4e55;transform:translate(-50%,-50%);"><span style="font-size:1.06em;">1. </span><span class="k">展会、寻源</span></div>
<div class="t" style="left:735.9px;top:453.6px;font-size:19px;color:#4b4e55;transform:translate(-50%,-50%);"><span style="font-size:1.06em;">2. </span><span class="k">询盘、发盘</span></div>
<div class="t" style="left:743.2px;top:509.6px;font-size:19px;color:#4b4e55;transform:translate(-50%,-50%);"><span style="font-size:1.06em;">3. </span><span class="k">进口价格核算。如</span><span style="font-size:1.06em;">EXW </span><span class="k">、</span><span style="font-size:1.06em;">FOB</span><span class="k">、</span><span style="font-size:1.06em;">FAS</span><span class="k">、</span><span style="font-size:1.06em;">C&amp;F</span><span class="k">、</span><span style="font-size:1.06em;">CIF</span><span class="k">、</span><span style="font-size:1.06em;">CPT</span><span class="k">、</span><span style="font-size:1.06em;">DDP</span><span class="k">、</span><span style="font-size:1.06em;">DDU</span></div>
<div class="t" style="left:749.6px;top:564.6px;font-size:19px;color:#4b4e55;transform:translate(-50%,-50%);"><span style="font-size:1.06em;">4. </span><span class="k">付款方式确认。如预付货款、凭单付现、即期、分期、延期。支付方式确认。如</span><span style="font-size:1.06em;">T/T</span><span class="k">、</span><span style="font-size:1.06em;">L/C</span><span class="k">、</span><span style="font-size:1.06em;">D/P</span><span class="k">、</span><span style="font-size:1.06em;">D/A</span></div>
<div class="t" style="left:743px;top:619.6px;font-size:19px;color:#4b4e55;transform:translate(-50%,-50%);"><span style="font-size:1.06em;">5. </span><span class="k">签订进口合同</span></div>
<div class="t" style="left:169.5px;top:335.3px;font-size:18px;color:#4d5a8f;line-height:22.5px;transform:translate(-50%,-50%);"><span style="font-size:1.11em;">7.</span><br>通知<br>信用证</div>
<div class="t" style="left:174px;top:708px;font-size:18px;color:#4d5a8f;line-height:22.5px;transform:translate(-50%,-50%);"><span style="font-size:1.11em;">13.</span><br>出口<br>退税</div>
<div class="t" style="left:298.5px;top:298.5px;font-size:18px;color:#4d5a8f;transform:translate(-50%,-50%) rotate(-36.4deg);"><span style="font-size:1.11em;">9. </span>检验检疫、产地证</div>
<div class="t" style="left:293.5px;top:723.5px;font-size:18px;color:#4d5a8f;transform:translate(-50%,-50%) rotate(40.3deg);"><span style="font-size:1.11em;">10. </span>办理保险</div>
<div class="t" style="left:421.5px;top:694px;font-size:18px;color:#4d5a8f;transform:translate(-50%,-50%) rotate(15.8deg);"><span style="font-size:1.11em;">11. </span>办理出口通关</div>
<div class="t" style="left:478px;top:325px;font-size:18px;color:#e05a3a;transform:translate(-50%,-50%) rotate(-13.3deg);"><span style="font-size:1.11em;">8.</span>订舱订船</div>
<div class="t" style="left:1011.5px;top:328.3px;font-size:18px;color:#e05a3a;transform:translate(-50%,-50%) rotate(13.2deg);"><span style="font-size:1.11em;">14.</span>交提单，换取提货单</div>
<div class="t" style="left:1148px;top:320px;font-size:18px;color:#e05a3a;transform:translate(-50%,-50%) rotate(21.7deg);"><span style="font-size:1.11em;">15.</span>报检</div>
<div class="t" style="left:1262px;top:330px;font-size:18px;color:#e05a3a;transform:translate(-50%,-50%) rotate(36.6deg);"><span style="font-size:1.11em;">19.</span>付汇核销</div>
<div class="t" style="left:1350px;top:342px;font-size:18px;color:#e05a3a;line-height:22.4px;transform:translate(-50%,-50%);"><span style="font-size:1.11em;">6.</span><br>开<br>信<br>用<br>证</div>
<div class="t" style="left:739px;top:695.8px;font-size:18px;color:#e05a3a;transform:translate(-50%,-50%);"><span style="font-size:1.1em;">12. </span>装船出运</div>
<div class="t" style="left:1051px;top:674px;font-size:18px;color:#e05a3a;transform:translate(-50%,-50%) rotate(-15.1deg);"><span style="font-size:1.11em;">16.</span>报关</div>
<div class="t" style="left:992px;top:745px;font-size:18px;color:#e05a3a;transform:translate(-50%,-50%) rotate(-23.5deg);"><span style="font-size:1.11em;">18.</span>提货</div>
<div class="t" style="left:1346.6px;top:716px;font-size:18px;color:#e05a3a;line-height:23.7px;transform:translate(-50%,-50%);"><span style="font-size:1.11em;">17.</span><br>缴<br>税</div>
<div class="t" style="left:133.4px;top:264.3px;font-size:14px;color:#f6f6f6;line-height:16.3px;transform:translate(-50%,-50%);">出口地<br>银行</div>
<div class="t" style="left:1324.8000000000002px;top:264.3px;font-size:14px;color:#f6f6f6;line-height:16.3px;transform:translate(-50%,-50%);">出口地<br>银行</div>
<div class="t" style="left:437px;top:262.1px;font-size:12px;color:#f6f6f6;transform:translate(-50%,-50%);">检验检疫局</div>
<div class="t" style="left:1014px;top:262.1px;font-size:12px;color:#f6f6f6;transform:translate(-50%,-50%);">检验检疫局</div>
<div class="t" style="left:731px;top:292.7px;font-size:14px;color:#f6f6f6;transform:translate(-50%,-50%);">船公司</div>
<div class="t" style="left:1169.4px;top:260.7px;font-size:13px;color:#f6f6f6;transform:translate(-50%,-50%);">外汇管理局</div>
<div class="t" style="left:144px;top:860.7px;font-size:13px;color:#f6f6f6;transform:translate(-50%,-50%);">国税局</div>
<div class="t" style="left:1317.6px;top:860.7px;font-size:13px;color:#f6f6f6;transform:translate(-50%,-50%);">国税局</div>
<div class="t" style="left:350.7px;top:867.6px;font-size:13px;color:#f6f6f6;transform:translate(-50%,-50%);">保险公司</div>
<div class="t" style="left:593.6px;top:791.5px;font-size:12.3px;color:#f6f6f6;transform:translate(-50%,-50%);">海关</div>
<div class="t" style="left:879.5px;top:791.5px;font-size:12.3px;color:#f6f6f6;transform:translate(-50%,-50%);">海关</div>
<svg class="l" width="1465" height="919" viewBox="0 0 1465 919" opacity="0.85">
<g fill="#58aeed"><path d="M1248.8,843.7 C1254,858 1268,870 1282,877 C1294,883 1302,888 1302,896 C1302,903 1297,908 1290,912 C1296,906 1298,900 1296,894 C1293,887 1284,884 1273,878 C1260,870 1251,858 1248.8,843.7 Z"/><path d="M1250.5,856 C1256,870 1268,880 1284,886.5 C1270,884 1256,874 1250.5,856 Z" opacity=".8"/><path d="M1261.5,882 C1268,889 1276,892.5 1284.5,893.5 C1279,894.5 1275,894.5 1272.5,895 C1276,898 1279,901 1282,903.5 C1272,899 1265,892 1261.5,882 Z" opacity=".85"/><path d="M1458.7,860.8 C1455,872 1445,880 1436,885.5 C1428,890 1424,895 1424.5,901 C1425,905.5 1428,908 1431,910 C1425,908.5 1421,905 1421,899 C1421,892 1426,887 1434,882 C1444,876 1453,870 1458.7,860.8 Z"/><path d="M1456,874 C1452,882 1445,887 1436,890.5 C1445,889.5 1453,884 1456,874 Z" opacity=".8"/><path d="M1450,889 C1446,894 1440,896.5 1434,897.5 C1437,898.5 1440,898.5 1442,899 C1439,901.5 1437,903.5 1434.5,905.5 C1442,902 1447.5,897 1450,889 Z" opacity=".85"/></g></svg>
<div class="t" style="left:1363.4px;top:886.5px;font-size:20.3px;color:#4aa5ea;transform:translate(-50%,-50%);opacity:.82;font-weight:700;">我爱IT技术网</div>
<div class="t" style="left:1362.2px;top:903.6px;font-size:11.5px;font-weight:700;color:#63b4ee;opacity:.85;transform:translate(-50%,-50%) scaleX(1.22)">www.52ij.com</div>
</div>
</body>
</html>
